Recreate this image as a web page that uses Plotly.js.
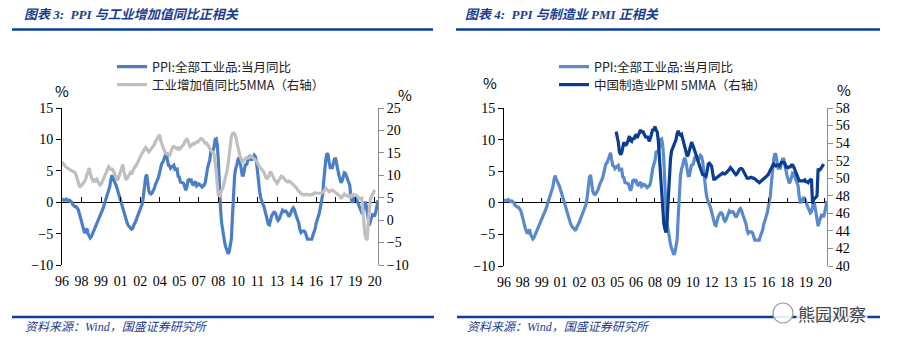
<!DOCTYPE html>
<html><head><meta charset="utf-8">
<script src="https://cdn.plot.ly/plotly-3.0.1.min.js"></script>
<style>html,body{margin:0;padding:0;background:#fff;} #chart{width:900px;height:353px;}</style>
</head><body><div id="chart"></div>
<script>
// Monthly data, first month = 1996-10
const startMonth = '1996-10';
const ppi = [
0.3, 0.4, 0.3,
0.4, 0.5, 0.3, 0.2, 0.3, 0.2, 0.0, -0.4, -0.6, -0.7, -0.7, -0.9,
-1.2, -1.8, -2.6, -3.3, -3.9, -4.4, -4.9, -4.6, -4.2, -5.0, -5.5, -5.7,
-5.5, -5.1, -4.7, -4.2, -3.6, -3.3, -3.0, -2.6, -2.3, -1.9, -1.4, -0.9,
-0.3, 0.3, 0.9, 1.3, 2.0, 2.5, 3.6, 4.3, 3.8, 3.5, 3.0, 2.6,
2.0, 1.3, 0.5, 0.0, -0.5, -1.0, -1.6, -2.2, -2.8, -3.3, -3.7, -4.0,
-4.1, -4.3, -4.2, -3.7, -3.4, -3.0, -2.5, -2.1, -1.7, -1.2, -0.8, -0.2,
1.0, 2.8, 4.0, 4.4, 2.8, 1.8, 1.4, 1.3, 1.5, 1.8, 2.2, 2.8,
3.4, 3.6, 4.0, 5.0, 5.6, 6.2, 6.4, 6.9, 7.6, 7.9, 6.8, 5.9,
5.8, 5.4, 5.6, 5.8, 5.9, 5.2, 5.2, 5.3, 4.1, 4.0, 3.2, 3.2,
3.1, 3.0, 2.5, 1.9, 2.4, 3.5, 3.6, 3.4, 3.5, 2.9, 2.8, 3.1,
3.3, 2.6, 2.7, 2.9, 2.8, 2.5, 2.4, 2.6, 2.7, 3.2, 4.6, 5.4,
6.1, 6.6, 8.0, 8.1, 8.2, 8.8, 10.0, 10.1, 9.1, 6.6, 2.0, -1.1,
-3.3, -4.5, -6.0, -6.6, -7.2, -7.8, -8.2, -7.9, -7.0, -5.8, -2.1, 1.7,
4.3, 5.4, 5.9, 6.8, 7.1, 6.4, 4.8, 4.3, 4.3, 5.0, 6.1, 5.9,
6.6, 7.2, 7.3, 6.8, 6.8, 7.1, 7.5, 7.3, 6.5, 5.0, 2.7, 1.7,
0.7, 0.0, -0.3, -0.7, -1.4, -2.1, -2.9, -3.5, -3.6, -2.8, -2.2, -1.9,
-1.6, -1.6, -1.9, -2.6, -2.9, -2.7, -2.3, -1.6, -1.3, -1.5, -1.4, -1.4,
-1.6, -2.0, -2.3, -2.0, -1.4, -1.1, -0.9, -1.2, -1.8, -2.2, -2.7, -3.3,
-4.3, -4.8, -4.6, -4.6, -4.6, -4.8, -5.4, -5.9, -5.9, -5.9, -5.9, -5.9,
-5.3, -4.9, -4.3, -3.4, -2.8, -2.6, -1.7, -0.8, 0.1, 1.2, 3.3, 5.5,
6.9, 7.8, 7.6, 6.4, 5.5, 5.5, 5.5, 6.3, 6.9, 6.9, 5.8, 4.9,
4.3, 3.7, 3.1, 3.4, 4.1, 4.7, 4.6, 4.1, 3.6, 3.3, 2.7, 0.9,
0.1, 0.1, 0.4, 0.9, 0.6, 0.0, -0.3, -0.8, -1.2, -1.6, -1.4, -0.5,
0.1, -0.4, -1.5, -3.1, -3.7, -3.0, -2.4, -2.0, -2.1, -2.1, -1.5, -0.4,
0.3
];
// 工业增加值同比5MMA, from 1996-10 to 2020-10
const ip5 = [
13.0, 12.6, 12.3,
12.0, 11.8, 11.6, 11.4, 11.3, 11.1, 11.0, 10.9, 10.8, 10.6, 10.0, 9.2,
8.2, 7.6, 7.5, 7.8, 8.1, 8.4, 8.7, 9.4, 10.3, 11.2, 11.6, 10.4,
9.5, 8.9, 8.7, 9.0, 8.8, 9.1, 8.6, 8.2, 7.8, 8.0, 8.6, 9.2,
9.7, 10.3, 11.0, 11.7, 11.9, 11.6, 11.3, 11.4, 11.2, 10.6, 9.8, 9.0,
8.8, 9.4, 10.2, 11.0, 12.2, 12.4, 11.0, 9.8, 9.0, 9.3, 9.8, 10.3,
10.6, 10.2, 10.8, 11.5, 11.9, 12.0, 12.6, 13.2, 13.8, 14.3, 14.6, 15.0,
15.4, 15.9, 16.2, 16.0, 15.6, 15.2, 15.5, 15.8, 16.1, 16.4, 16.8, 17.5,
17.8, 18.3, 18.7, 19.0, 17.6, 16.8, 16.2, 15.5, 15.0, 14.8, 14.9, 14.6,
14.5, 15.0, 15.8, 16.3, 16.4, 16.2, 16.0, 15.9, 16.1, 15.8, 16.0, 16.3,
16.5, 16.9, 17.4, 17.8, 18.2, 17.6, 16.8, 16.4, 16.6, 16.9, 17.1, 17.0,
17.2, 17.5, 17.4, 17.8, 18.0, 18.2, 18.1, 17.8, 17.5, 17.1, 17.2, 16.9,
16.5, 16.0, 15.6, 15.3, 15.0, 14.8, 13.0, 10.8, 7.8, 5.6, 5.4, 6.2,
6.6, 7.0, 7.9, 8.9, 9.8, 11.0, 12.6, 14.6, 16.8, 18.6, 19.3, 19.4,
19.2, 18.6, 17.4, 16.0, 15.0, 14.2, 13.6, 13.0, 13.2, 13.6, 13.8, 13.9,
13.8, 13.9, 14.0, 14.2, 14.1, 13.9, 13.6, 13.5, 13.2, 12.8, 12.2, 11.8,
11.6, 11.3, 11.0, 10.6, 10.0, 9.4, 9.3, 9.6, 10.2, 10.8, 10.4, 9.8,
9.4, 8.9, 8.6, 8.2, 8.6, 9.1, 9.6, 9.8, 9.7, 9.4, 9.0, 8.8,
8.6, 8.5, 8.7, 8.6, 8.4, 8.1, 7.9, 7.8, 7.6, 7.2, 6.7, 6.4,
6.3, 6.0, 5.8, 5.6, 5.6, 5.7, 5.8, 5.7, 5.6, 5.6, 5.7, 5.6,
5.8, 6.0, 6.1, 6.0, 6.0, 6.0, 6.0, 6.1, 6.0, 6.2, 6.4, 6.8,
7.1, 6.8, 6.4, 6.3, 6.5, 6.7, 6.7, 6.5, 6.3, 6.0, 5.8, 5.6,
5.6, 5.4, 4.8, 5.2, 5.6, 5.8, 5.6, 5.4, 5.3, 5.5, 5.3, 5.2,
5.6, 5.7, 5.5, 5.6, 5.5, 5.1, 5.0, 4.9, 4.8, 4.9, 2.0, -1.8,
-3.2, -4.2, -4.4, -0.5, 3.4, 4.8, 5.3, 5.9, 6.3, 6.7
];
// 中国制造业PMI 5MMA, from 2005-03 (month index 101) to 2020-10
const pmiStartIndex = 101;
const pmi5 = [
55.3, 54.7, 54.1, 53.0, 52.7, 52.9, 53.5, 54.1, 53.8, 53.8,
54.0, 54.4, 54.8, 54.3, 54.2, 54.6, 54.4, 54.8, 55.0, 54.6, 54.9, 55.2,
55.5, 55.2, 55.4, 55.1, 54.9, 54.6, 54.8, 54.4, 54.2, 54.6, 55.2, 55.6,
55.4, 55.9, 55.5, 55.3, 54.3, 52.3, 50.7, 48.9, 46.3, 44.8, 44.2, 43.8,
45.3, 48.3, 50.7, 52.2, 53.1, 53.4, 53.6, 54.0, 54.4, 55.1, 55.4, 55.0,
54.9, 55.0, 54.5, 53.8, 53.6, 52.9, 52.5, 52.7, 53.3, 53.9, 54.1, 53.8,
53.5, 53.1, 52.7, 52.3, 52.0, 51.5, 51.1, 50.8, 50.4, 50.4, 50.3, 50.2,
50.8, 51.6, 51.7, 51.6, 51.4, 50.6, 49.9, 49.9, 50.0, 50.1, 50.3, 50.4,
50.5, 50.5, 50.6, 50.5, 50.5, 50.6, 50.7, 50.8, 51.0, 51.2, 51.1, 50.9,
50.7, 50.5, 50.4, 50.5, 50.8, 51.0, 51.1, 51.1, 51.0, 50.7, 50.4, 50.2,
50.0, 50.0, 50.0, 50.1, 50.1, 50.0, 50.0, 49.9, 49.8, 49.7, 49.7, 49.5,
49.6, 49.7, 49.8, 49.9, 50.1, 50.1, 50.2, 50.4, 50.7, 51.0, 51.2, 51.4,
51.6, 51.5, 51.4, 51.5, 51.5, 51.4, 51.7, 51.8, 51.8, 51.8, 51.7, 51.3,
51.3, 51.2, 51.3, 51.3, 51.5, 51.5, 51.3, 51.0, 50.7, 50.3, 50.0, 49.7,
49.7, 49.7, 49.7, 49.7, 49.8, 49.6, 49.6, 49.5, 49.7, 49.8, 49.9, 47.1,
47.6, 47.7, 47.8, 48.0, 51.1, 50.9, 51.0, 51.2, 51.4, 51.6
];
const xLabelsLeft = ['96','98','99','01','02','04','05','07','08','10','11','13','14','16','17','19','20'];
const xLabelsRight = ['96','98','99','01','02','03','05','06','08','09','10','12','13','15','16','18','19','20'];
const leftTickStep = 18, rightTickStep = 17;

const names = {
  ppi: 'PPI:全部工业品:当月同比',
  ip: '工业增加值同比5MMA（右轴）',
  pmi: '中国制造业PMI 5MMA（右轴）'
};

// ---- helpers ----
const W = 900, H = 353;
const px = v => v / W, py = v => 1 - v / H;
const idx = (arr, start = 0) => arr.map((_, i) => i + start);
const xRange = [0, ppi.length - 1];
const tickValsL = xLabelsLeft.map((_, i) => i * leftTickStep);
const tickValsR = xLabelsRight.map((_, i) => i * rightTickStep);

const serif = '"Liberation Serif", "Times New Roman", serif';
const cjk = '"Noto Sans CJK SC", "Liberation Sans", sans-serif';
const titleBlue = '#1B3D8F';
const lineBlue = '#0A3F9B';

const domL = [px(62), px(378)], domR = [px(504), px(827)];
const domYL = [py(265), py(108)], domYR = [py(266), py(108)];
const zeroPosL = domYL[0] + (0 - -10) / 25 * (domYL[1] - domYL[0]);
const zeroPosR = domYR[0] + (0 - -10) / 25 * (domYR[1] - domYR[0]);

const traces = [
  {x: idx(ppi), y: ppi, xaxis: 'x', yaxis: 'y', type: 'scatter', mode: 'lines', name: names.ppi,
   line: {color: '#4A7EC6', width: 3.2}, legend: 'legend'},
  {x: idx(ip5), y: ip5, xaxis: 'x', yaxis: 'y2', type: 'scatter', mode: 'lines', name: names.ip,
   line: {color: '#BFBFBF', width: 3.2}, legend: 'legend2'},
  {x: idx(ppi), y: ppi, xaxis: 'x2', yaxis: 'y3', type: 'scatter', mode: 'lines', name: names.ppi,
   line: {color: '#5A8ACD', width: 3.2}, legend: 'legend3'},
  {x: idx(pmi5, pmiStartIndex), y: pmi5, xaxis: 'x2', yaxis: 'y4', type: 'scatter', mode: 'lines', name: names.pmi,
   line: {color: '#0B3D91', width: 3.2}, legend: 'legend4'},
  {x: [0], y: [null], xaxis: 'x3', yaxis: 'y', showlegend: false, hoverinfo: 'skip', mode: 'lines'},
  {x: [0], y: [null], xaxis: 'x4', yaxis: 'y3', showlegend: false, hoverinfo: 'skip', mode: 'lines'}
];

const tickFont = {family: serif, size: 14, color: '#000'};
const baseX = {range: xRange, showgrid: false, zeroline: false, showline: false,
  ticks: 'outside', ticklen: 3, tickcolor: 'rgba(0,0,0,0)', tickfont: tickFont, fixedrange: true};
const tickX = {range: xRange, showgrid: false, zeroline: false, showline: false, showticklabels: false,
  ticks: 'inside', ticklen: 5, tickwidth: 1, tickcolor: '#000', anchor: 'free', side: 'bottom'};
const leftY = {showgrid: false, zeroline: true, zerolinecolor: '#000', zerolinewidth: 1,
  showline: true, linecolor: '#000', linewidth: 1, ticks: 'outside', ticklen: 5, tickcolor: '#000',
  tickfont: tickFont, range: [-10, 15], dtick: 5, tick0: 0};
const rightY = {showgrid: false, zeroline: false, showline: true, linecolor: '#8C8C8C', linewidth: 1,
  ticks: 'outside', ticklen: 5, tickcolor: '#8C8C8C', tickfont: tickFont, side: 'right'};

const legendBase = {xanchor: 'left', yanchor: 'top', bgcolor: 'rgba(0,0,0,0)',
  font: {family: cjk, size: 12.5, color: '#222'}, tracegroupgap: 0, itemwidth: 30};
const pa = {xref: 'paper', yref: 'paper', showarrow: false};
const ann = (o) => Object.assign({}, pa, o);

const layout = {
  width: W, height: H, margin: {l: 0, r: 0, t: 0, b: 0},
  paper_bgcolor: '#fff', plot_bgcolor: 'rgba(0,0,0,0)',
  showlegend: true,
  xaxis: Object.assign({}, baseX, {domain: domL, anchor: 'y', tickvals: tickValsL, ticktext: xLabelsLeft}),
  xaxis2: Object.assign({}, baseX, {domain: domR, anchor: 'y3', tickvals: tickValsR, ticktext: xLabelsRight}),
  xaxis3: Object.assign({}, tickX, {domain: domL, overlaying: 'x', position: zeroPosL, tickvals: tickValsL}),
  xaxis4: Object.assign({}, tickX, {domain: domR, overlaying: 'x2', position: zeroPosR, tickvals: tickValsR}),
  yaxis: Object.assign({}, leftY, {domain: domYL, anchor: 'x'}),
  yaxis2: Object.assign({}, rightY, {domain: domYL, anchor: 'x', overlaying: 'y', range: [-10, 25], dtick: 5}),
  yaxis3: Object.assign({}, leftY, {domain: domYR, anchor: 'x2'}),
  yaxis4: Object.assign({}, rightY, {domain: domYR, anchor: 'x2', overlaying: 'y3', range: [40, 58], dtick: 2}),
  legend: Object.assign({}, legendBase, {x: px(112), y: py(52)}),
  legend2: Object.assign({}, legendBase, {x: px(112), y: py(70)}),
  legend3: Object.assign({}, legendBase, {x: px(554), y: py(52)}),
  legend4: Object.assign({}, legendBase, {x: px(554), y: py(70)}),
  shapes: [
    {type: 'line', xref: 'paper', yref: 'paper', x0: px(12), x1: px(433), y0: py(29.5), y1: py(29.5), line: {color: lineBlue, width: 2.5}},
    {type: 'line', xref: 'paper', yref: 'paper', x0: px(456), x1: px(880), y0: py(29.5), y1: py(29.5), line: {color: lineBlue, width: 2.5}},
    {type: 'line', xref: 'paper', yref: 'paper', x0: px(12), x1: px(434), y0: py(317), y1: py(317), line: {color: lineBlue, width: 2.5}},
    {type: 'line', xref: 'paper', yref: 'paper', x0: px(457), x1: px(880), y0: py(317), y1: py(317), line: {color: lineBlue, width: 2.5}},
    {type: 'circle', xref: 'paper', yref: 'paper', x0: px(773), x1: px(793), y0: py(323), y1: py(303), line: {color: '#999', width: 1.2}, fillcolor: 'rgba(255,255,255,0.9)'}
  ],
  annotations: [
    ann({text: '<b><i>图表 3:  PPI 与工业增加值同比正相关</i></b>', x: px(22), y: py(15), xanchor: 'left', yanchor: 'middle', font: {family: serif + ', "Noto Sans CJK SC"', size: 13, color: titleBlue}}),
    ann({text: '<b><i>图表 4:  PPI 与制造业 PMI 正相关</i></b>', x: px(463), y: py(15), xanchor: 'left', yanchor: 'middle', font: {family: serif + ', "Noto Sans CJK SC"', size: 13, color: titleBlue}}),
    ann({text: '%', x: px(53), y: py(78), font: {family: cjk, size: 15, color: '#000'}}),
    ann({text: '%', x: px(405), y: py(82), font: {family: cjk, size: 15, color: '#000'}}),
    ann({text: '%', x: px(490), y: py(70), font: {family: cjk, size: 15, color: '#000'}}),
    ann({text: '%', x: px(853), y: py(77), font: {family: cjk, size: 15, color: '#000'}}),
    ann({text: '<i>资料来源：Wind，国盛证券研究所</i>', x: px(23), y: py(327), xanchor: 'left', yanchor: 'middle', font: {family: serif + ', "Noto Sans CJK SC"', size: 12, color: titleBlue}}),
    ann({text: '<i>资料来源：Wind，国盛证券研究所</i>', x: px(465), y: py(327), xanchor: 'left', yanchor: 'middle', font: {family: serif + ', "Noto Sans CJK SC"', size: 12, color: titleBlue}}),
    ann({text: '熊园观察', x: px(796), y: py(313), xanchor: 'left', yanchor: 'middle', bgcolor: 'rgba(255,255,255,0.85)', font: {family: cjk, size: 17, color: '#444'}})
  ]
};

Plotly.newPlot('chart', traces, layout, {staticPlot: true, displayModeBar: false});
</script>
</body></html>
